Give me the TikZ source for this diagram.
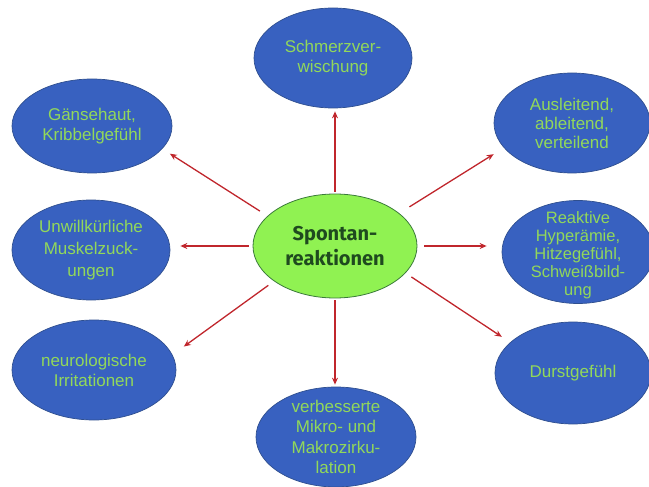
\documentclass[tikz,border=0pt]{standalone}
\usepackage{fontspec}
\setmainfont{Liberation Sans}
\newfontfamily\centerfont{Fira Sans}
\usetikzlibrary{shapes.geometric,arrows.meta}
\definecolor{bluefill}{HTML}{3861C0}
\definecolor{blueedge}{HTML}{2F4F8F}
\definecolor{txtgreen}{HTML}{92D85A}
\definecolor{limefill}{HTML}{90F252}
\definecolor{limeedge}{HTML}{3A7A3A}
\definecolor{darkgreentxt}{HTML}{1F4A1F}
\definecolor{arrred}{HTML}{C0262C}
\tikzset{
  blueell/.style={ellipse, draw=blueedge, fill=bluefill, line width=0.7pt, inner sep=0pt},
  txt/.style={text=txtgreen, font=\fontsize{17}{20}\selectfont, align=center},
  arr/.style={draw=arrred, line width=1.3pt, -{Stealth[length=7pt,width=6pt]}}
}
\begin{document}
\begin{tikzpicture}[x=1pt,y=-1pt]
\useasboundingbox (0,0) rectangle (649,487);
% outer ellipses
\node[blueell, minimum width=158pt, minimum height=100pt] (t) at (333,58) {};
\node[txt] at (t) {Schmerzver-\\wischung};
\node[blueell, minimum width=160pt, minimum height=94pt] (tl) at (92,126) {};
\node[txt] at (tl) {Gänsehaut,\\Kribbelgefühl};
\node[blueell, minimum width=156pt, minimum height=100pt] (tr) at (572,123) {};
\node[txt, font=\fontsize{17}{19}\selectfont] at (tr) {Ausleitend,\\ableitend,\\verteilend};
\node[blueell, minimum width=158pt, minimum height=100pt] (ml) at (91,250) {};
\node[txt, font=\fontsize{17}{22}\selectfont] at (ml) {Unwillkürliche\\Muskelzuck-\\ungen};
\node[blueell, minimum width=152pt, minimum height=103pt] (mr) at (578,252) {};
\node[txt, font=\fontsize{16.5}{18}\selectfont] at ([yshift=-3pt]mr) {Reaktive\\Hyperämie,\\Hitzegefühl,\\Schweißbild-\\ung};
\node[blueell, minimum width=164pt, minimum height=100pt] (bl) at (94,370) {};
\node[txt] at (bl) {neurologische\\Irritationen};
\node[blueell, minimum width=156pt, minimum height=102pt] (br) at (573,373) {};
\node[txt] at (br) {Durstgefühl};
\node[blueell, minimum width=160pt, minimum height=100pt] (b) at (336,437) {};
\node[txt, font=\fontsize{17}{20.5}\selectfont] at (b) {verbesserte\\Mikro- und\\Makrozirku-\\lation};
% centre
\node[ellipse, draw=limeedge, fill=limefill, line width=0.8pt, inner sep=0pt,
      minimum width=164pt, minimum height=104pt] (c) at (335,246) {};
\node[text=darkgreentxt, font=\centerfont\bfseries\fontsize{20}{25}\selectfont, align=center] at (c) {Spontan-\\reaktionen};
% arrows
\draw[arr, shorten <=2pt, shorten >=3pt] (c.north) -- (c.north |- t.south);
\draw[arr, shorten <=2pt, shorten >=2pt] (c.south) -- (c.south |- b.north);
\draw[arr, shorten <=4pt, shorten >=10pt] (c.west) -- (c.west -| ml.east);
\draw[arr, shorten <=7pt, shorten >=15pt] (c.east) -- (c.east -| mr.west);
\draw[arr, shorten <=9pt, shorten >=9pt] (c.156) -- (tl.-18);
\draw[arr, shorten <=7pt, shorten >=14pt] (c.210) -- (bl.11);
\draw[arr, shorten <=12pt, shorten >=12pt] (c.27) -- (tr.200);
\draw[arr, shorten <=7pt, shorten >=10pt] (c.-21) -- (br.154);
\end{tikzpicture}
\end{document}
